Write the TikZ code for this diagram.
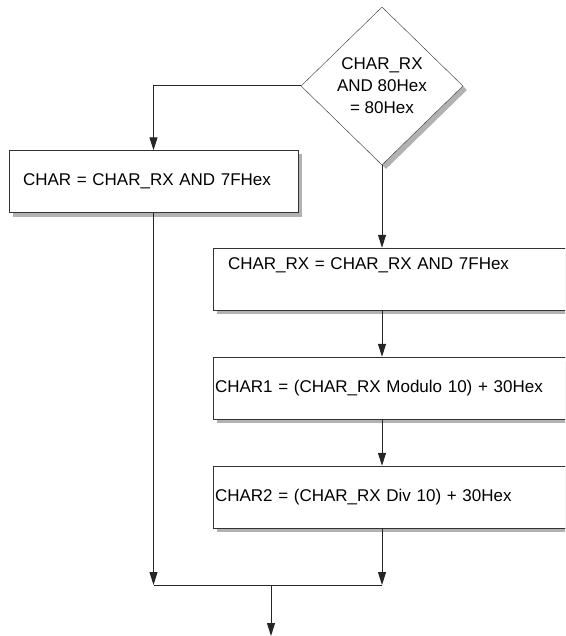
\documentclass[tikz,border=0pt]{standalone}
\usepackage{fontspec}
\setmainfont{Liberation Sans}
\usetikzlibrary{arrows.meta, positioning, shapes.geometric, shadows}

\begin{document}
\begin{tikzpicture}[
x=1pt, y=-1pt,
font=\fontsize{17}{22}\selectfont,
shdw/.style={drop shadow={shadow xshift=4pt, shadow yshift=-4pt, fill=black!30, opacity=1}},
dec/.style={diamond, draw=black!80, fill=white, shdw, align=center, inner sep=0pt, minimum width=162pt, minimum height=158pt},
box/.style={rectangle, draw=black!80, fill=white, shdw, align=left, minimum height=62pt},
wide/.style={box, minimum width=400pt, text width=396pt, inner xsep=2pt},
arr/.style={-{Triangle[length=13pt, width=8pt]}, draw=black!85, line width=1pt},
lin/.style={draw=black!85, line width=1pt}
]
\useasboundingbox (0,0) rectangle (565,636);
\clip (0,0) rectangle (565,636);

\node[dec] (dec) at (382,86) {CHAR\_RX\\AND 80Hex\\= 80Hex};
\node[box, minimum width=289pt, text width=261pt, inner xsep=14pt] (charbox) at (153.5,181.5) {CHAR = CHAR\_RX AND 7FHex};
\node[wide, text width=370pt, inner xsep=15pt] (rxbox) at (413,279) {CHAR\_RX = CHAR\_RX AND 7FHex\\[8pt]\mbox{}};
\node[wide] (modbox) at (413,388) {CHAR1 = (CHAR\_RX Modulo 10) + 30Hex};
\node[wide] (divbox) at (413,497) {CHAR2 = (CHAR\_RX Div 10) + 30Hex};
\coordinate (join) at (271,585);
\coordinate (out) at (271,636);

\draw[arr] (dec.west) -| (charbox.north);
\draw[arr] (dec.south) -- (dec.south |- rxbox.north);
\draw[arr] (dec.south |- rxbox.south) -- (dec.south |- modbox.north);
\draw[arr] (dec.south |- modbox.south) -- (dec.south |- divbox.north);
\draw[arr] (charbox.south) -- (charbox.south |- join);
\draw[arr] (dec.south |- divbox.south) -- (dec.south |- join);
\draw[lin] (charbox.south |- join) -- (dec.south |- join);
\draw[arr] (join) -- (out);
\end{tikzpicture}
\end{document}
